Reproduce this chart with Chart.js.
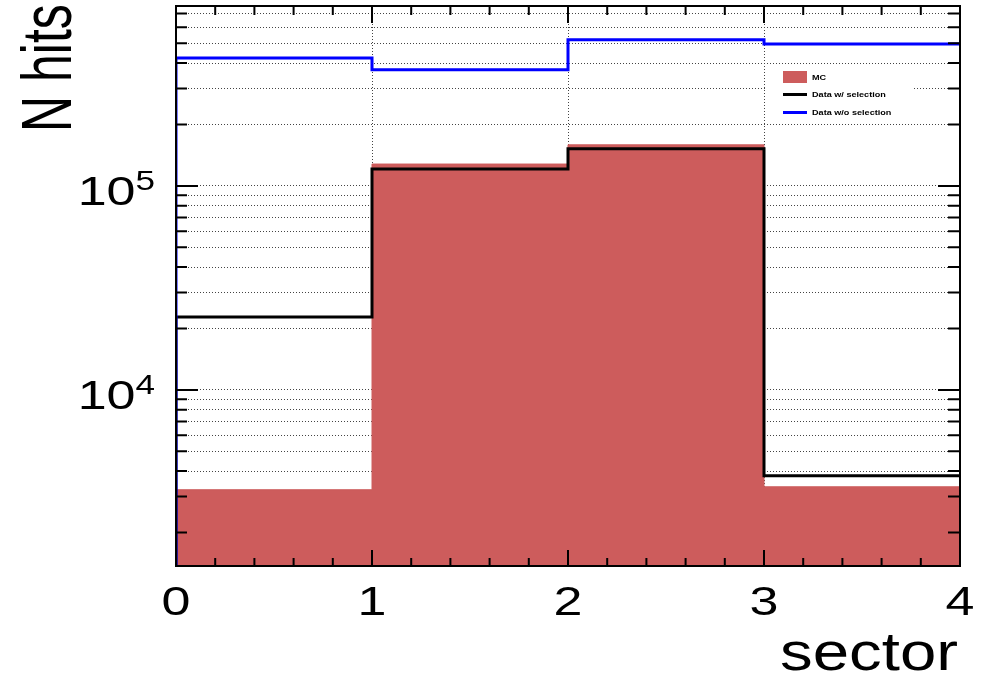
<!DOCTYPE html>
<html>
<head>
<meta charset="utf-8">
<title>N hits per sector</title>
<script src="https://cdn.jsdelivr.net/npm/chart.js@4.4.1/dist/chart.umd.min.js"></script>
<style>
    html, body { margin: 0; padding: 0; background: #ffffff; }
    canvas { display: block; }
</style>
</head>
<body>
<canvas id="hitsChart" width="986" height="675"></canvas>
<script>
// bin edges of the sector histogram and the hits in each bin
const sectorEdges = [0, 1, 2, 3, 4];
const mcHits = [3240, 128000, 159000, 3350];
const dataSelHits = [22800, 121000, 152000, 3790];
const dataAllHits = [424000, 371000, 520000, 496000];

const seriesLabels = ['MC', 'Data w/ selection', 'Data w/o selection'];

// axis settings
const yMin = 1370;
const yMax = 762000;
const yDecades = [1e3, 1e4, 1e5];
const yLabelValues = [1e4, 1e5];
const yLabelExponents = ['4', '5'];
const xTickLabels = ['0', '1', '2', '3', '4'];

const FONT = '"Liberation Sans", Arial, Helvetica, sans-serif';

let hitsChart;

// grid positions of the log axis: 1..9 per decade inside the range
function logGridValues() {
    const vals = [];
    yDecades.forEach(d => {
        for (let m = 1; m <= 9; m++) {
            const v = d * m;
            if (v > yMin && v < yMax) vals.push(v);
        }
    });
    return vals;
}

// turn bin contents into points for a stepped line
function stepPoints(values, fromFloor) {
    const pts = [];
    const last = values.length;
    if (fromFloor) pts.push({ x: sectorEdges[0], y: yMin });
    values.forEach((v, i) => pts.push({ x: sectorEdges[i], y: v }));
    pts.push({ x: sectorEdges[last], y: values[last - 1] });
    return pts;
}

// text with a horizontal stretch, like the ROOT output
function stretchedText(ctx, text, x, y, size, opts = {}) {
    ctx.save();
    ctx.translate(x, y);
    ctx.scale(opts.sx || 1.3, 1);
    if (opts.rotate) ctx.rotate(opts.rotate);
    ctx.font = (opts.bold ? 'bold ' : '') + size + 'px ' + FONT;
    ctx.textAlign = opts.align || 'left';
    ctx.textBaseline = opts.baseline || 'alphabetic';
    ctx.fillStyle = '#000000';
    ctx.fillText(text, 0, 0);
    ctx.restore();
}

const rootFrame = {
    id: 'rootFrame',
    afterDraw(chart) {
        const ctx = chart.ctx;
        const ca = chart.chartArea;
        const xs = chart.scales.x;
        const ys = chart.scales.y;

        // legend box
        ctx.save();
        ctx.fillStyle = '#ffffff';
        ctx.fillRect(767, 66, 146, 56);
        const ds = chart.data.datasets;
        const legendRows = [77, 94.5, 112.5];
        ds.forEach((d, i) => {
            const y = legendRows[i];
            if (d.fill) {
                ctx.fillStyle = d.backgroundColor;
                ctx.fillRect(783, y - 6, 24, 12);
            } else {
                ctx.strokeStyle = d.borderColor;
                ctx.lineWidth = 3;
                ctx.beginPath();
                ctx.moveTo(783, y);
                ctx.lineTo(807, y);
                ctx.stroke();
            }
            stretchedText(ctx, d.label, 812, y + 2.5, 7, { bold: true, sx: 1.3 });
        });
        ctx.restore();

        // frame
        ctx.save();
        ctx.strokeStyle = '#000000';
        ctx.lineWidth = 2;
        ctx.strokeRect(ca.left, ca.top, ca.right - ca.left, ca.bottom - ca.top);

        // x ticks, 5 subdivisions per unit, pointing inward
        ctx.beginPath();
        for (let i = 0; i < sectorEdges.length; i++) {
            const major = xs.getPixelForValue(sectorEdges[i]);
            ctx.moveTo(major, ca.bottom);
            ctx.lineTo(major, ca.bottom - 16);
            ctx.moveTo(major, ca.top);
            ctx.lineTo(major, ca.top + 17);
            if (i < sectorEdges.length - 1) {
                for (let s = 1; s < 5; s++) {
                    const v = sectorEdges[i] + (sectorEdges[i + 1] - sectorEdges[i]) * s / 5;
                    const px = xs.getPixelForValue(v);
                    ctx.moveTo(px, ca.bottom);
                    ctx.lineTo(px, ca.bottom - 8);
                    ctx.moveTo(px, ca.top);
                    ctx.lineTo(px, ca.top + 9);
                }
            }
        }
        // y ticks on both sides
        logGridValues().forEach(v => {
            const py = ys.getPixelForValue(v);
            const isMajor = yDecades.includes(v);
            ctx.moveTo(ca.left, py);
            ctx.lineTo(ca.left + (isMajor ? 22 : 11), py);
            ctx.moveTo(ca.right, py);
            ctx.lineTo(ca.right - (isMajor ? 22 : 12), py);
        });
        ctx.stroke();
        ctx.restore();

        // x tick labels
        xs.ticks.forEach((t, i) => {
            stretchedText(ctx, xTickLabels[i], xs.getPixelForValue(t.value), 615, 40, { align: 'center', sx: 1.3 });
        });

        // y tick labels as 10 with a superscript exponent
        yLabelValues.forEach((v, i) => {
            const py = ys.getPixelForValue(v);
            const sx = 1.3;
            ctx.save();
            ctx.font = '27px ' + FONT;
            const supW = ctx.measureText(yLabelExponents[i]).width * sx;
            ctx.restore();
            const right = 155;
            stretchedText(ctx, yLabelExponents[i], right, py + 4.5, 27, { align: 'right', sx });
            stretchedText(ctx, '10', right - supW, py + 19.5, 40, { align: 'right', sx });
        });

        // axis titles
        stretchedText(ctx, 'sector', 958, 670, 54, { align: 'right', sx: 1.21 });
        stretchedText(ctx, 'N hits', 71, 132, 50, { align: 'left', sx: 1.4, rotate: -Math.PI / 2 });
    }
};

function generateChart() {
    const ctx = document.querySelector('#hitsChart').getContext('2d');

    if (hitsChart) {
        hitsChart.destroy();
    }

    hitsChart = new Chart(ctx, {
        type: 'line',
        data: {
            datasets: [{
                label: seriesLabels[0],
                data: stepPoints(mcHits, false),
                stepped: 'before',
                fill: 'start',
                backgroundColor: '#cd5c5c',
                borderColor: '#cd5c5c',
                borderWidth: 1,
                pointRadius: 0,
                order: 3
            }, {
                label: seriesLabels[1],
                data: stepPoints(dataSelHits, true),
                stepped: 'before',
                fill: false,
                borderColor: '#000000',
                borderWidth: 3,
                pointRadius: 0,
                order: 2
            }, {
                label: seriesLabels[2],
                data: stepPoints(dataAllHits, true),
                stepped: 'before',
                fill: false,
                borderColor: '#0000ff',
                borderWidth: 3,
                pointRadius: 0,
                order: 1
            }]
        },
        options: {
            responsive: false,
            animation: false,
            devicePixelRatio: 1,
            layout: {
                padding: { left: 0, right: 26, top: 6, bottom: 0 }
            },
            plugins: {
                legend: { display: false },
                tooltip: { enabled: false }
            },
            scales: {
                x: {
                    type: 'linear',
                    min: sectorEdges[0],
                    max: sectorEdges[sectorEdges.length - 1],
                    ticks: { display: false, stepSize: 1 },
                    grid: {
                        color: '#444444',
                        lineWidth: 1,
                        drawTicks: false
                    },
                    border: { display: false, dash: [1, 2] },
                    afterFit: scale => { scale.height = 109; }
                },
                y: {
                    type: 'logarithmic',
                    min: yMin,
                    max: yMax,
                    ticks: { display: false },
                    afterBuildTicks: scale => {
                        scale.ticks = logGridValues().map(v => ({ value: v }));
                    },
                    grid: {
                        color: '#444444',
                        lineWidth: 1,
                        drawTicks: false
                    },
                    border: { display: false, dash: [1, 2] },
                    afterFit: scale => { scale.width = 176; }
                }
            }
        },
        plugins: [rootFrame]
    });
}

generateChart();
</script>
</body>
</html>
